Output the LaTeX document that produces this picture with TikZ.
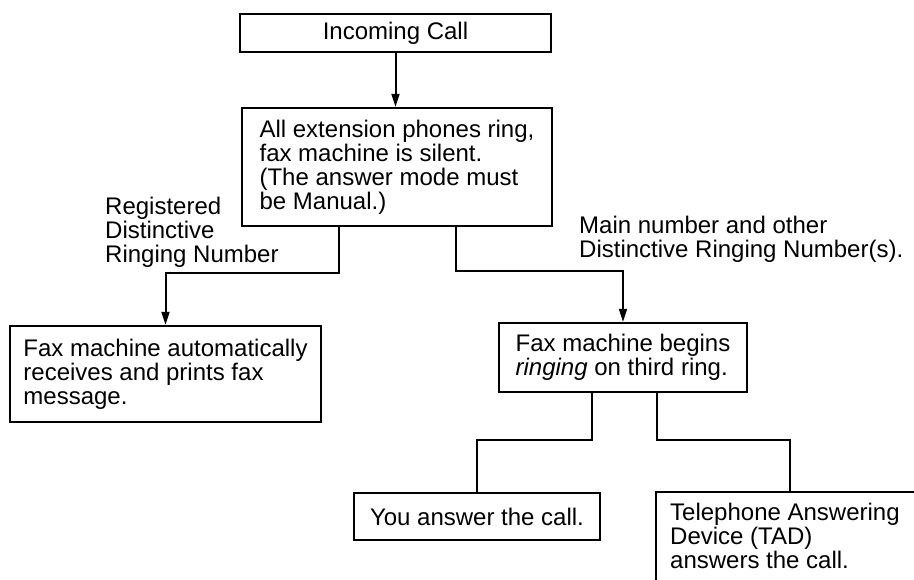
\documentclass[tikz,border=0pt]{standalone}
\usepackage{fontspec}
\setmainfont{Liberation Sans}
\usetikzlibrary{arrows.meta}
\begin{document}
\begin{tikzpicture}[x=1pt,y=-1pt,
  box/.style={draw, line width=2.4pt, rectangle, inner sep=0pt, align=left,
              font=\fontsize{24}{24}\selectfont},
  lbl/.style={inner sep=0pt, align=left, anchor=north west,
              font=\fontsize{24}{24}\selectfont},
  conn/.style={line width=2pt},
  arr/.style={conn, -{Triangle[length=13pt,width=8pt]}}]
\useasboundingbox (0,0) rectangle (914,579);
\clip (0,0) rectangle (914,579);

% boxes
\node[box, minimum width=311pt, minimum height=38pt] (inc) at (395.5,33) {Incoming Call};
\node[box, minimum width=310pt, minimum height=118pt] (main) at (397,167)
  {All extension phones ring,\\fax machine is silent.\\(The answer mode must\\be Manual.)};
\node[box, minimum width=311pt, minimum height=96pt] (fa) at (165.5,374)
  {Fax machine automatically\\receives and prints fax\\message.};
\node[box, minimum width=248pt, minimum height=69pt] (fb) at (623,357.5)
  {Fax machine begins\\\textit{ringing} on third ring.};
\node[box, minimum width=246pt, minimum height=47pt] (you) at (477,516.5)
  {You answer the call.};
\node[box, anchor=north west, minimum width=320pt, minimum height=130pt] (tad) at (655,491) {};
\node[lbl] (tadtext) at (670,502.5)
  {Telephone Answering\\Device (TAD)\\answers the call.};

% labels
\node[lbl] (reg) at (105,196.5) {Registered\\Distinctive\\Ringing Number};
\node[lbl] (mainno) at (579,215.5) {Main number and other\\Distinctive Ringing Number(s).};

% connectors
\draw[arr] (inc.south) -- (inc.south |- main.north);
\draw[arr] ([xshift=98pt]main.south west) -- ++(0,46) -| (fa.north);
\draw[arr] ([xshift=215pt]main.south west) -- ++(0,44) -| (fb.north);
\draw[conn] ([xshift=94pt]fb.south west) -- ++(0,47) -| (you.north);
\draw[conn] ([xshift=159pt]fb.south west) -- ++(0,47) -| ([xshift=135pt]tad.north west);
\end{tikzpicture}
\end{document}
